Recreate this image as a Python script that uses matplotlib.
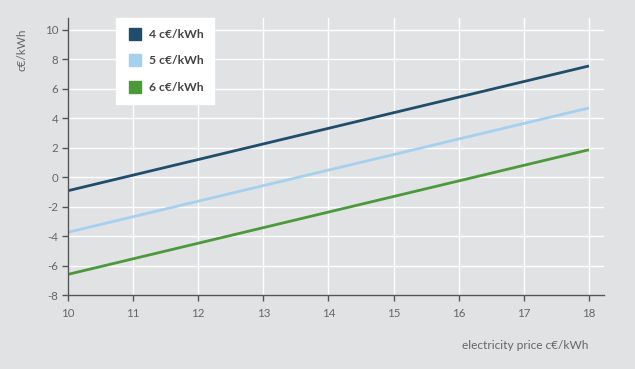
import matplotlib
matplotlib.use('Agg')
import matplotlib.pyplot as plt
from matplotlib.lines import Line2D

### data
price = [10, 18]
s_4c = [-0.92, 7.55]
s_5c = [-3.74, 4.70]
s_6c = [-6.60, 1.86]
labels = ['4 c€/kWh', '5 c€/kWh', '6 c€/kWh']
colors = ['#1f4d6b', '#a5d1ef', '#4a9a3a']
xticks = [10, 11, 12, 13, 14, 15, 16, 17, 18]
yticks = [-8, -6, -4, -2, 0, 2, 4, 6, 8, 10]

bg = '#e1e2e4'
txt = '#666666'
plt.rcParams['font.family'] = ['Lato', 'DejaVu Sans']
plt.rcParams['axes.unicode_minus'] = False

fig = plt.figure(figsize=(6.35, 3.69), dpi=100, facecolor=bg)
ax = fig.add_axes([0.107, 0.2005, 0.844, 0.7505])
ax.set_facecolor(bg)

for ys, c in zip([s_4c, s_5c, s_6c], colors):
    ax.plot(price, ys, color=c, lw=2, solid_capstyle='butt')

ax.set_xlim(10, 18.23)
ax.set_ylim(-8, 10.8)
ax.set_xticks(xticks)
ax.set_yticks(yticks)
ax.grid(True, color='white', lw=1)
ax.set_axisbelow(True)

for s in ['top', 'right']:
    ax.spines[s].set_visible(False)
for s in ['left', 'bottom']:
    ax.spines[s].set_color('#555555')
    ax.spines[s].set_linewidth(1)
ax.tick_params(direction='out', length=4, width=1, color='#555555',
               labelcolor=txt, labelsize=8.3)
ax.tick_params(axis='x', pad=5)
ax.tick_params(axis='y', pad=3)

fig.text(0.035, 0.865, 'c€/kWh', rotation=90, ha='center', va='center',
         color=txt, fontsize=8.5)
fig.text(0.926, 0.063, 'electricity price c€/kWh', ha='right', va='center',
         color=txt, fontsize=8.6)

# legend with square swatches
handles = [Line2D([], [], marker='s', ls='none', markersize=8,
                  markerfacecolor=c, markeredgecolor=c) for c in colors]
leg = ax.legend(handles, labels, loc='upper left', bbox_to_anchor=(0.0896, 1.0),
                borderaxespad=0, frameon=True, fancybox=False, borderpad=0.9,
                labelspacing=1.28, handletextpad=0.4, handlelength=1.4,
                prop={'size': 8.7, 'weight': 'bold'})
leg.get_frame().set_facecolor('white')
leg.get_frame().set_edgecolor('white')
leg.get_frame().set_alpha(1)
for t in leg.get_texts():
    t.set_color('#444444')

fig.savefig('out.png', dpi=100, facecolor=bg)
